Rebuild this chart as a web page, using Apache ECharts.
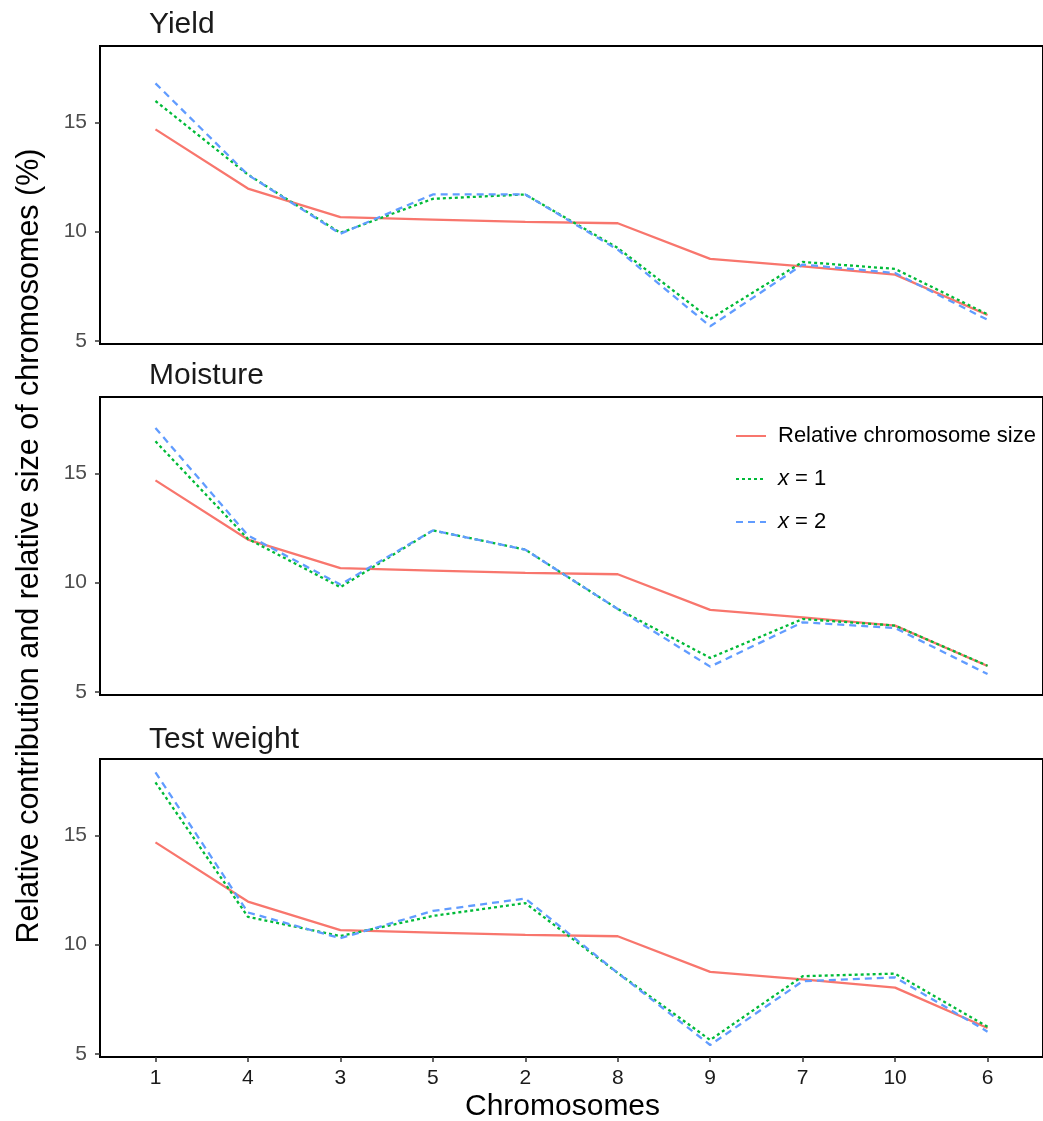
<!DOCTYPE html>
<html>
<head>
<meta charset="utf-8">
<script src="https://cdn.jsdelivr.net/npm/echarts@6/dist/echarts.min.js"></script>
<style>html,body{margin:0;padding:0;background:#fff}#c{width:1043px;height:1121px}</style>
</head>
<body>
<div id="c"></div>
<script>
const chromosomes = ['1','4','3','5','2','8','9','7','10','6'];
const panelTitles = ['Yield','Moisture','Test weight'];
const seriesNames = ['Relative chromosome size','x = 1','x = 2'];
const yTicks = [5,10,15];

const relSize = [14.68, 11.97, 10.66, 10.55, 10.44, 10.38, 8.75, 8.41, 8.03, 6.18];

const yieldX1 = [15.98, 12.61, 9.94, 11.5, 11.7, 9.25, 6.0, 8.61, 8.29, 6.21];
const yieldX2 = [16.79, 12.6, 9.9, 11.7, 11.7, 9.17, 5.66, 8.49, 8.1, 5.96];

const moistX1 = [16.47, 12.0, 9.79, 12.39, 11.51, 8.79, 6.55, 8.33, 8.03, 6.19];
const moistX2 = [17.08, 12.16, 9.91, 12.39, 11.51, 8.79, 6.15, 8.18, 7.92, 5.81];

const testX1 = [17.43, 11.27, 10.39, 11.31, 11.9, 8.7, 5.63, 8.55, 8.67, 6.24];
const testX2 = [17.89, 11.47, 10.29, 11.54, 12.11, 8.7, 5.4, 8.32, 8.5, 6.01];

const panels = [[relSize, yieldX1, yieldX2],[relSize, moistX1, moistX2],[relSize, testX1, testX2]];

const colors = ['#F8766D','#00BA38','#619CFF'];
const lineTypes = ['solid',[3,3],[7,5]];
const font = '"Liberation Sans", Arial, Helvetica, sans-serif';

const gridTops = [46, 397, 759];
const grids = gridTops.map(t => ({left:100, top:t, width:951, height:298, show:true, borderColor:'#000', borderWidth:2, backgroundColor:'#fff'}));

const xAxes = gridTops.map((t,i) => ({
  type:'value', gridIndex:i, min:-0.6, max:9.6,
  show: i === 2,
  axisLine:{show:false, onZero:false}, splitLine:{show:false},
  axisTick:{show:true, customValues:[0,1,2,3,4,5,6,7,8,9], length:5, lineStyle:{color:'#333', width:1.5}},
  axisLabel:{show:true, customValues:[0,1,2,3,4,5,6,7,8,9], formatter:v => chromosomes[Math.round(v)], color:'#1a1a1a', fontSize:21, fontFamily:font, margin:11}
}));

const yAxes = gridTops.map((t,i) => ({
  type:'value', gridIndex:i, min:4.85, max:18.5,
  axisLine:{show:false, onZero:false}, splitLine:{show:false},
  axisTick:{show:true, customValues:yTicks, length:5, lineStyle:{color:'#333', width:1.5}},
  axisLabel:{show:true, customValues:yTicks, color:'#4d4d4d', fontSize:21, fontFamily:font, margin:13},
  name: i === 1 ? 'Relative contribution and relative size of chromosomes (%)' : '',
  nameLocation:'middle', nameRotate:90, nameGap:55,
  nameTextStyle:{fontSize:30.5, color:'#000', fontFamily:font}
}));

const series = [];
panels.forEach((p, gi) => {
  p.forEach((vals, si) => {
    series.push({
      type:'line', name:seriesNames[si], xAxisIndex:gi, yAxisIndex:gi,
      data: vals.map((v,i) => [i, v]),
      symbol:'none', showSymbol:false, silent:true, animation:false,
      lineStyle:{color:colors[si], width:2.3, type:lineTypes[si]},
      itemStyle:{color:colors[si]}
    });
  });
});

const option = {
  animation:false,
  backgroundColor:'#fff',
  title: panelTitles.map((t,i) => ({text:t, left:144, top:[5,356,720][i], textStyle:{fontSize:30, fontWeight:'normal', color:'#1a1a1a', fontFamily:font}})),
  legend:{
    data:seriesNames, orient:'vertical', left:730, top:420,
    itemWidth:30, itemHeight:14, itemGap:21,
    itemStyle:{opacity:0},
    textStyle:{fontSize:22, color:'#000', fontFamily:font, padding:[0,0,0,7],
      rich:{i:{fontStyle:'italic', fontSize:22, fontFamily:font, color:'#000'}, n:{fontSize:22, fontFamily:font, color:'#000'}}},
    formatter: n => n.startsWith('x') ? '{i|x}{n|' + n.slice(1) + '}' : n,
    selectedMode:false
  },
  grid:grids, xAxis:xAxes, yAxis:yAxes, series:series,
  graphic:[{type:'text', left:465, top:1092, style:{text:'Chromosomes', fontSize:30, fill:'#000', fontFamily:font}}]
};
const chart = echarts.init(document.getElementById('c'), null, {renderer:'canvas'});
chart.setOption(option);
</script>
</body>
</html>
